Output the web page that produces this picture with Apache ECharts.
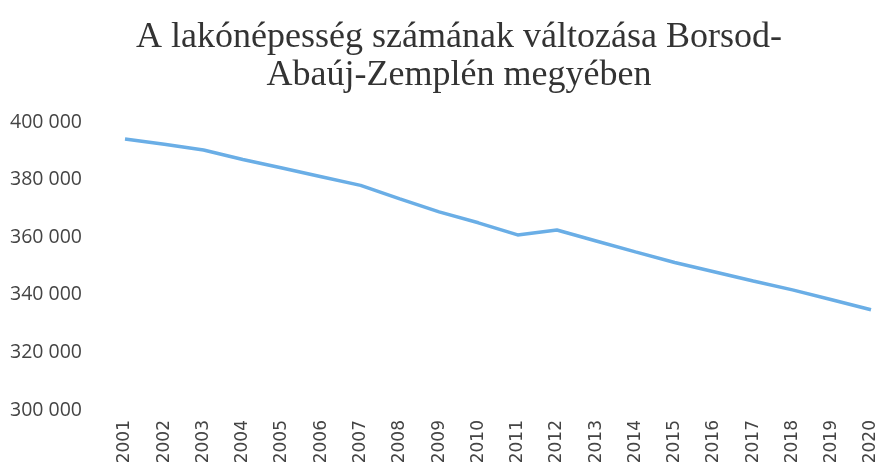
<!DOCTYPE html>
<html>
<head>
<meta charset="utf-8">
<script src="https://cdn.jsdelivr.net/npm/echarts@6/dist/echarts.min.js"></script>
<style>html,body{margin:0;padding:0;background:#fff}#c{width:883px;height:468px}</style>
</head>
<body>
<div id="c"></div>
<script>
const years = ['2001','2002','2003','2004','2005','2006','2007','2008','2009','2010','2011','2012','2013','2014','2015','2016','2017','2018','2019','2020'];
const population = [394100,392300,390300,387000,384000,381000,378000,373300,368800,365000,360800,362500,358700,354900,351200,348000,344800,341700,338300,334800];
const titleLines = ['A lakónépesség számának változása Borsod-', 'Abaúj-Zemplén megyében'];

const chart = echarts.init(document.getElementById('c'));
chart.setOption({
  animation: false,
  title: {
    text: titleLines.join('\n'),
    left: 454, top: 14, textAlign: 'center',
    textStyle: {fontFamily: 'Liberation Serif', fontSize: 36, fontWeight: 'normal', color: '#333', lineHeight: 38}
  },
  grid: {left: 125, right: 12, top: 122, bottom: 58},
  xAxis: {
    type: 'category', data: years, boundaryGap: false,
    axisLine: {show: false}, axisTick: {show: false},
    axisLabel: {rotate: 90, margin: 10, fontFamily: 'DejaVu Sans', fontSize: 17, color: '#444'}
  },
  yAxis: {
    type: 'value', min: 300000, max: 400000, interval: 20000,
    splitLine: {show: false}, axisLine: {show: false}, axisTick: {show: false},
    axisLabel: {
      margin: 43, fontFamily: 'Open Sans', fontSize: 19.5, color: '#444',
      formatter: v => String(v).replace(/\B(?=(\d{3})+(?!\d))/g, ' ')
    }
  },
  series: [{
    type: 'line', data: population, symbol: 'none',
    lineStyle: {color: '#6aaee6', width: 3.5}
  }]
});
</script>
</body>
</html>
